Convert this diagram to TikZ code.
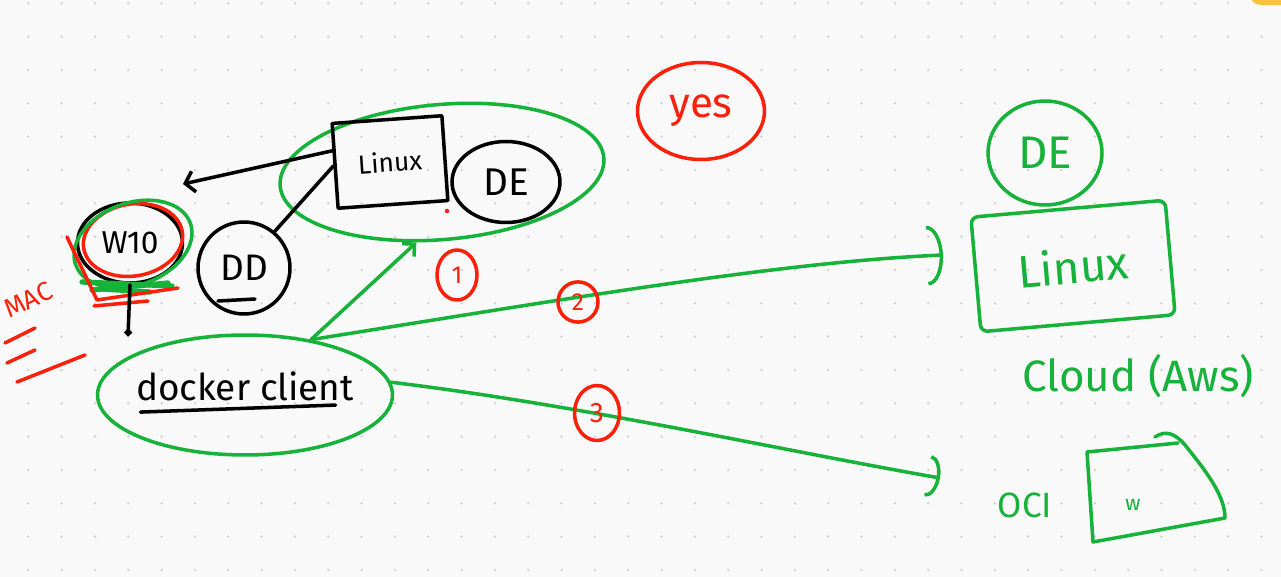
\documentclass[tikz,border=0pt]{standalone}
\usepackage{fontspec}
\setmainfont{Fira Sans}
\usetikzlibrary{arrows.meta,shapes.geometric}

\definecolor{inkgreen}{RGB}{22,178,58}
\definecolor{inkred}{RGB}{250,32,10}
\definecolor{paper}{RGB}{249,249,249}
\definecolor{griddot}{RGB}{212,212,212}
\definecolor{sticky}{RGB}{252,196,61}

\tikzset{
  inkline/.style={line width=2pt, line cap=round, line join=round},
  greenpen/.style={inkline, draw=inkgreen, text=inkgreen},
  redpen/.style={inkline, draw=inkred, text=inkred},
  blackpen/.style={inkline, draw=black},
  greentext/.style={text=inkgreen},
  redtext/.style={text=inkred},
  hand/.style={font=\fontsize{#1}{#1}\selectfont},
}

\begin{document}
\begin{tikzpicture}[x=0.02cm, y=-0.02cm]
\useasboundingbox (0,0) rectangle (1281,577);
\fill[paper] (0,0) rectangle (1281,577);
\foreach \i in {0,...,38}
  \foreach \j in {0,...,17}
    \fill[griddot] (28.33+33.33*\i, 3.33+33.33*\j) circle (0.028cm);
\fill[sticky, rounded corners=6pt] (1250,-20) rectangle (1300,5);

% local host
\node[greenpen, ellipse, minimum width=6.5cm, minimum height=2.7cm, rotate=5] (host) at (442,172) {};
\node[blackpen, minimum width=2.2cm, minimum height=1.7cm, rotate=4, hand=15] (linux) at (390,162) {Linux};
\node[blackpen, ellipse, minimum width=2.16cm, minimum height=1.62cm, hand=22] (de) at (506,182) {DE};
\fill[inkred] (447,211) circle (0.045cm);

% windows box
\node[blackpen, ellipse, minimum width=2.1cm, minimum height=1.6cm, hand=18] (w10) at (130,243) {W10};
\draw[redpen, rotate around={10:(133,240)}] (133,240) ellipse [x radius=1cm, y radius=0.72cm];
\draw[greenpen, rotate around={20:(133,244)}] (133,244) ellipse [x radius=1.22cm, y radius=0.82cm];
\draw[greenpen, line width=3pt] (82,282) -- (172,286);
\draw[greenpen, line width=3pt] (92,290) -- (168,283);
\draw[greenpen, line width=3pt] (102,289) -- (150,292);
\draw[redpen] (67,237) -- (97,300) -- (178,288);
\draw[redpen] (94,306) -- (148,301);

\node[redtext, rotate=25, hand=15] (mac) at (28,300) {MAC};
\draw[redpen] (5,343) -- (35,328);
\draw[redpen] (7,363) -- (35,350);
\draw[redpen] (17,382) -- (85,355);

\node[blackpen, ellipse, minimum width=1.84cm, minimum height=1.84cm, hand=21] (dd) at (244,268) {DD};
\draw[blackpen] (218,301) -- (255,299);
\draw[blackpen] (dd.50) -- (linux.west);

\coordinate (tow10) at (183,184);
\draw[blackpen, -{Straight Barb[length=5pt,width=12pt]}] (linux.165) -- (tow10);

% docker client
\node[greenpen, ellipse, minimum width=5.9cm, minimum height=2.4cm] (client) at (245,395) {};
\node[hand=21] (clientlabel) at (245,386) {docker client};
\draw[blackpen] ([xshift=6pt,yshift=-3pt]clientlabel.south west) -- ([xshift=-14pt,yshift=1pt]clientlabel.south east);

\coordinate (hook) at (128,336);
\draw[blackpen, -{Circle[open,length=4pt]}] (w10.south) -- (hook);

\draw[greenpen, -{Straight Barb[length=5pt,width=10pt]}] (client.40) -- (host.245);

\coordinate (awstip) at (943,255);
\draw[greenpen, -{Arc Barb[length=9pt,width=34pt]}] (client.40) .. controls (560,300) and (780,262) .. (awstip);
\coordinate (ocitip) at (940,478);
\draw[greenpen, -{Arc Barb[length=7pt,width=24pt]}] (client.5) .. controls (580,405) and (780,450) .. (ocitip);

% numbers
\node[redpen, ellipse, minimum width=0.8cm, minimum height=1cm, hand=14] (n1) at (457,275) {1};
\node[redpen, ellipse, minimum width=0.8cm, minimum height=0.8cm, hand=14] (n2) at (578,302) {2};
\node[redpen, ellipse, minimum width=0.9cm, minimum height=1.1cm, hand=16] (n3) at (597,413) {3};
\node[redpen, ellipse, minimum width=2.54cm, minimum height=1.94cm, hand=24] (yes) at (701,111) {yes};

% cloud side
\node[greenpen, ellipse, minimum width=2.28cm, minimum height=2.08cm, hand=26] (de2) at (1045,153) {DE};
\node[greenpen, rounded corners=4pt, minimum width=3.9cm, minimum height=2.3cm, rotate=5, hand=26] (cloudlinux) at (1073,266) {Linux};
\node[greentext, hand=25] (cloud) at (1138,376) {Cloud (Aws)};
\node[greentext, hand=20] (oci) at (1025,505) {OCI};
\draw[greenpen] (1155,437) .. controls (1165,430) and (1175,433) .. (1185,445)
  .. controls (1205,470) and (1225,495) .. (1225,518) -- (1093,542) -- (1087,452) -- (1178,443);
\node[greentext, hand=12] (ociw) at (1133,505) {w};
\end{tikzpicture}
\end{document}
